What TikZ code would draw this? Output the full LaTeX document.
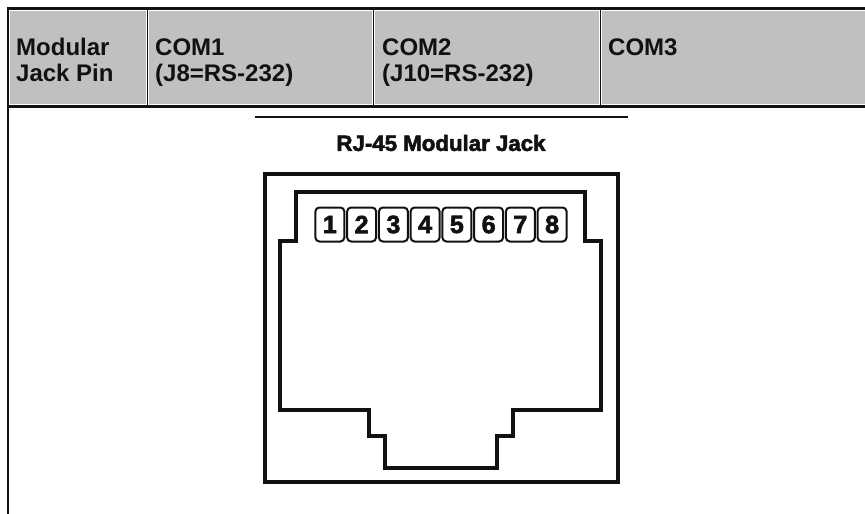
\documentclass[tikz,border=0pt]{standalone}
\usepackage{fontspec}
\setmainfont{Liberation Sans}
\newfontfamily\heavyfont[FakeBold=2.5]{Liberation Sans Bold}
\definecolor{hdrgray}{HTML}{C0C0C0}
\definecolor{ink}{HTML}{111111}
\begin{document}
\begin{tikzpicture}[x=1pt,y=-1pt,
  cell/.style={fill=hdrgray, draw=none, anchor=north west, inner sep=0pt, minimum height=93pt},
  hdrtxt/.style={anchor=base west, inner sep=0pt, font=\fontsize{24}{28}\selectfont\bfseries, text=ink},
  rule/.style={draw=ink, line width=2.8pt},
  divider/.style={draw=ink, line width=1.5pt},
  jackline/.style={draw=ink, line width=3.2pt},
  pinbox/.style={draw=ink, line width=2pt, rounded corners=4pt, minimum width=29pt, minimum height=34pt, inner sep=0pt, font=\fontsize{25}{25}\heavyfont, text=ink},
  title/.style={inner sep=0pt, font=\fontsize{21}{21}\heavyfont, text=ink}
]
\useasboundingbox (0,0) rectangle (865,514);
\fill[white] (0,0) rectangle (865,514);
% header cells
\node[cell, minimum width=136pt] (c1) at (10,11) {};
\node[cell, minimum width=223pt] (c2) at (149,11) {};
\node[cell, minimum width=224pt] (c3) at (375,11) {};
\node[cell, minimum width=263pt] (c4) at (602,11) {};
% table rules
\draw[rule] (8,8.5) -- (865,8.5);
\draw[rule] (8,7) -- (8,514);
\draw[rule] (8,106.5) -- (865,106.5);
\draw[divider] (147.5,8.5) -- (147.5,106.5);
\draw[divider] (373.5,8.5) -- (373.5,106.5);
\draw[divider] (600.5,8.5) -- (600.5,106.5);
% header text
\node[hdrtxt] (t1a) at (16,55) {Modular};
\node[hdrtxt] (t1b) at (16,81) {Jack Pin};
\node[hdrtxt] (t2a) at (155,55) {COM1};
\node[hdrtxt] (t2b) at (155,81) {(J8=RS-232)};
\node[hdrtxt] (t3a) at (382,55) {COM2};
\node[hdrtxt] (t3b) at (382,81) {(J10=RS-232)};
\node[hdrtxt] (t4a) at (608,55) {COM3};
% jack picture
\draw[draw=ink, line width=1.2pt] (255,117) -- (628,117);
\node[title] (ttl) at (441,143) {\scalebox{1.06}[1.05]{RJ-45 Modular Jack}};
\draw[jackline] (265,174) rectangle (618,482);
\draw[jackline] (296,192) -- (585,192) -- (585,241) -- (601,241) -- (601,410)
  -- (513,410) -- (513,436) -- (497,436) -- (497,468) -- (385,468)
  -- (385,436) -- (369,436) -- (369,410) -- (280,410) -- (280,241)
  -- (296,241) -- cycle;
\foreach \i in {1,...,8}{
  \node[pinbox] (p\i) at ({314+31.75*(\i-0.5)},224.5) {\i};
}
\end{tikzpicture}
\end{document}
